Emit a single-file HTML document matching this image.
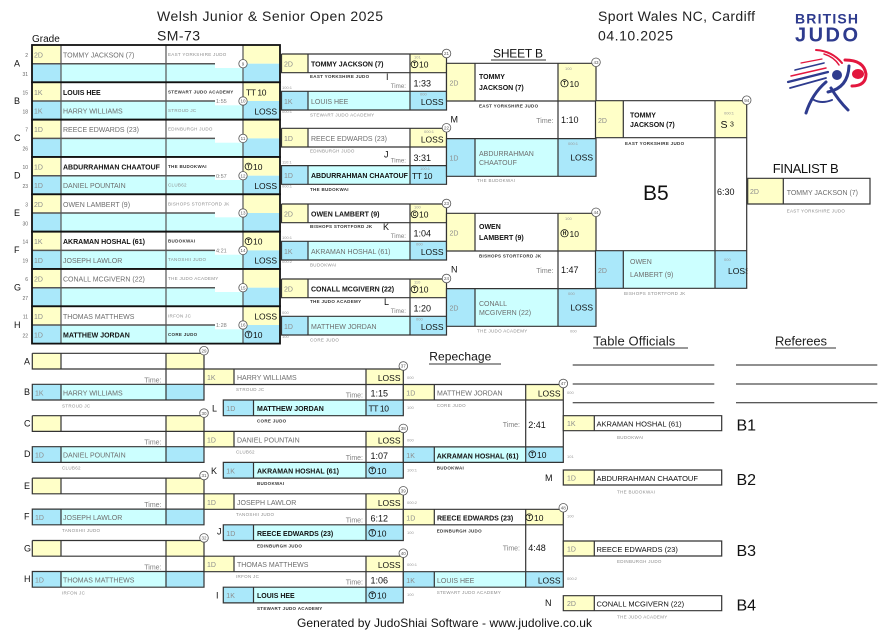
<!DOCTYPE html>
<html><head><meta charset="utf-8"><style>
html,body{margin:0;padding:0;background:#fff;}
svg{display:block;}
text{font-family:"Liberation Sans",Arial,sans-serif;}
.g{font-size:7px;fill:#8c8c8c}
.n{font-size:7px;fill:#6e6e6e}
.w{font-size:7px;font-weight:bold;fill:#111}
.c{font-size:4.5px;fill:#8c8c8c;letter-spacing:.3px}
.cb{font-size:4.5px;font-weight:bold;fill:#333;letter-spacing:.3px}
.s{font-size:8.5px;fill:#111}
.tl{font-size:7px;fill:#808080}
.tl2{font-size:6.2px;fill:#808080}
.tv{font-size:9px;fill:#111}
.tm{font-size:5.5px;fill:#808080}
.sm{font-size:4px;fill:#999}
.sd{font-size:5px;fill:#666}
.lt{font-size:9px;fill:#111}
.cn{font-size:4.5px;fill:#555;text-anchor:middle}
.cc{fill:#fff;stroke:#555;stroke-width:.8}
.ci{fill:none;stroke:#111;stroke-width:.8}
.ct{font-size:5px;font-weight:bold;fill:#111;text-anchor:middle}
.bl{fill:none;stroke:#333;stroke-width:1.2}
.il{fill:none;stroke:#555;stroke-width:1.2}
.bo{fill:none;stroke:#111;stroke-width:1.8}
.dl{fill:none;stroke:#555;stroke-width:1.5}
.bn{font-size:7.5px;fill:#111}
.bl16{font-size:16px;fill:#111}
.hd{font-size:14px;fill:#222}
</style></head><body>
<svg width="891" height="630" viewBox="0 0 891 630" xmlns="http://www.w3.org/2000/svg">
<defs>
<g id="r1b">
<rect x="32" y="0" width="29" height="18.7" fill="#ffffc8"/>
<rect x="61" y="0" width="182" height="18.7" fill="#fff"/>
<rect x="243" y="0" width="37" height="18.7" fill="#ffffc8"/>
<rect x="32" y="18.7" width="29" height="18.6" fill="#aae8fa"/>
<rect x="61" y="18.7" width="182" height="18.6" fill="#ccffff"/>
<rect x="243" y="18.7" width="37" height="18.6" fill="#aae8fa"/>
<rect x="215" y="18" width="27.4" height="5" fill="#fff"/>
<path class="il" d="M61 0V37.3M166 0V37.3M243 0V37.3"/>
<path class="dl" d="M32 18.7H215"/>
<rect class="bo" x="32" y="0" width="248" height="37.3"/>
</g>
<g id="r2b">
<rect x="281.5" y="0" width="26.5" height="18.7" fill="#ffffc8"/>
<rect x="308" y="0" width="102" height="18.7" fill="#fff"/>
<rect x="410" y="0" width="36.5" height="18.7" fill="#ffffc8"/>
<rect x="410" y="18.7" width="36.5" height="18.6" fill="#fff"/>
<rect x="281.5" y="37.3" width="26.5" height="18.7" fill="#aae8fa"/>
<rect x="308" y="37.3" width="102" height="18.7" fill="#ccffff"/>
<rect x="410" y="37.3" width="36.5" height="18.7" fill="#aae8fa"/>
<path class="bl" d="M281.5 0H446.5V56H281.5V37.3H446.5M281.5 0V18.7H446.5M308 0V18.7M308 37.3V56M410 0V56"/>
</g>
<g id="r3b">
<rect x="446.5" y="0" width="28.5" height="37.7" fill="#ffffc8"/>
<rect x="475" y="0" width="83" height="37.7" fill="#fff"/>
<rect x="558" y="0" width="38" height="37.7" fill="#ffffc8"/>
<rect x="558" y="37.7" width="38" height="37.6" fill="#fff"/>
<rect x="446.5" y="75.3" width="28.5" height="37.7" fill="#aae8fa"/>
<rect x="475" y="75.3" width="83" height="37.7" fill="#ccffff"/>
<rect x="558" y="75.3" width="38" height="37.7" fill="#aae8fa"/>
<path class="bl" d="M446.5 0H596V113H446.5V75.3H596M446.5 0V37.7H596M475 0V37.7M475 75.3V113M558 0V113"/>
</g>
<g id="lrb">
<rect x="32.3" y="0" width="28.7" height="15.7" fill="#ffffc8"/>
<rect x="61" y="0" width="105" height="15.7" fill="#fff"/>
<rect x="166" y="0" width="38" height="15.7" fill="#ffffc8"/>
<rect x="32.3" y="31" width="28.7" height="15.7" fill="#aae8fa"/>
<rect x="61" y="31" width="105" height="15.7" fill="#ccffff"/>
<rect x="166" y="31" width="38" height="15.7" fill="#aae8fa"/>
<path class="bl" d="M32.3 0H204V46.7H32.3V31H204M32.3 0V15.7H204M61 0V15.7M61 31V46.7M166 0V46.7"/>
</g>
<g id="p1b">
<rect x="204" y="0" width="30" height="15.5" fill="#ffffc8"/>
<rect x="234" y="0" width="132" height="15.5" fill="#fff"/>
<rect x="366" y="0" width="37.3" height="15.5" fill="#ffffc8"/>
<rect x="223.3" y="31" width="30.2" height="15.7" fill="#aae8fa"/>
<rect x="253.5" y="31" width="112.5" height="15.7" fill="#ccffff"/>
<rect x="366" y="31" width="37.3" height="15.7" fill="#aae8fa"/>
<path class="bl" d="M204 0H403.3V46.7H223.3V31H403.3M204 0V15.5H403.3M234 0V15.5M253.5 31V46.7M366 0V46.7"/>
</g>
<g id="p2b">
<rect x="403.3" y="0" width="31" height="15.5" fill="#ffffc8"/>
<rect x="434.3" y="0" width="91.4" height="15.5" fill="#fff"/>
<rect x="525.7" y="0" width="37.6" height="15.5" fill="#ffffc8"/>
<rect x="403.3" y="62.4" width="31" height="15.5" fill="#aae8fa"/>
<rect x="434.3" y="62.4" width="91.4" height="15.5" fill="#ccffff"/>
<rect x="525.7" y="62.4" width="37.6" height="15.5" fill="#aae8fa"/>
<path class="bl" d="M403.3 0H563.3V77.9H403.3V62.4H563.3M403.3 0V15.5H563.3M434.3 0V15.5M434.3 62.4V77.9M525.7 0V77.9"/>
</g>
<g id="bb">
<rect x="563.3" y="0" width="31" height="15" fill="#ffffc8"/>
<rect x="594.3" y="0" width="127.4" height="15" fill="#fff"/>
<path class="bl" d="M563.3 0H721.7V15H563.3ZM594.3 0V15"/>
</g>
</defs>

<rect width="891" height="630" fill="#fff"/>

<!-- Header -->
<text class="hd" x="157" y="21" textLength="226">Welsh Junior &amp; Senior Open 2025</text>
<text class="hd" x="157" y="40.5" textLength="43">SM-73</text>
<text class="hd" x="598" y="21" textLength="157">Sport Wales NC, Cardiff</text>
<text class="hd" x="598" y="40.5" textLength="75">04.10.2025</text>
<text x="32" y="42" font-size="10" fill="#111">Grade</text>

<!-- Logo -->
<text x="795" y="23.5" font-size="14" font-weight="bold" fill="#2e3b8e" textLength="63">BRITISH</text>
<text x="795" y="41.7" font-size="20" font-weight="bold" fill="#2e3b8e" textLength="63">JUDO</text>
<g fill="none" stroke-linecap="round">
<path d="M816 50 Q832 51 842 63" stroke="#e3173e" stroke-width="2"/>
<path d="M824 54 Q834 57 839 65" stroke="#e3173e" stroke-width="1.5"/>
<path d="M845 60 Q864 60 866 74 Q866 86 852 86" stroke="#e3173e" stroke-width="3"/>
<path d="M788 82 L828 72" stroke="#2e3b8e" stroke-width="2.2"/>
<path d="M791 76 L826 68" stroke="#e3173e" stroke-width="1.5"/>
<path d="M795 70 L824 63" stroke="#2e3b8e" stroke-width="1.6"/>
<path d="M801 63 L822 59" stroke="#e3173e" stroke-width="1.2"/>
<path d="M790 88 L826 78" stroke="#2e3b8e" stroke-width="1.8"/>
<path d="M849 66 Q848 88 828 92" stroke="#2e3b8e" stroke-width="3"/>
<path d="M826 82 Q812 94 806 113" stroke="#2e3b8e" stroke-width="3"/>
<path d="M831 88 Q838 100 848 110" stroke="#2e3b8e" stroke-width="3"/>
<path d="M814 100 Q822 104 832 100" stroke="#2e3b8e" stroke-width="2"/>
</g>
<ellipse cx="858" cy="74" rx="6" ry="5" fill="#e3173e"/>
<circle cx="837" cy="75" r="5" fill="#2e3b8e"/>

<!-- ROUND 1 -->
<use href="#r1b" y="45"/><use href="#r1b" y="82.3"/><use href="#r1b" y="119.7"/><use href="#r1b" y="157"/>
<use href="#r1b" y="194.3"/><use href="#r1b" y="231.7"/><use href="#r1b" y="269"/><use href="#r1b" y="306.3"/>

<g transform="translate(0,45)">
<text class="sd" x="28" y="12" text-anchor="end">2</text><text class="sd" x="28" y="31" text-anchor="end">31</text>
<text class="lt" x="14" y="21.5">A</text>
<text class="g" x="34" y="12.5">2D</text>
<text class="n" x="63" y="12.5">TOMMY JACKSON (7)</text>
<text class="c" x="168" y="11">EAST YORKSHIRE JUDO</text>
<circle class="cc" cx="243" cy="18.7" r="4.2"/><text class="cn" x="243" y="20.3">9</text>
</g>
<g transform="translate(0,82.3)">
<text class="sd" x="28" y="12" text-anchor="end">15</text><text class="sd" x="28" y="31" text-anchor="end">18</text>
<text class="lt" x="14" y="21.5">B</text>
<text class="g" x="34" y="12.5">1K</text>
<text class="w" x="63" y="12.5">LOUIS HEE</text>
<text class="cb" x="168" y="11">STEWART JUDO ACADEMY</text>
<text class="s" x="246" y="13" letter-spacing="-0.4">TT 10</text>
<text class="g" x="34" y="31.2">1K</text>
<text class="n" x="63" y="31.2">HARRY WILLIAMS</text>
<text class="c" x="168" y="29.5">STROUD JC</text>
<text class="s" x="277" y="32" text-anchor="end">LOSS</text>
<text class="tm" x="216" y="20.8">1:55</text>
<circle class="cc" cx="243" cy="18.7" r="4.2"/><text class="cn" x="243" y="20.3">10</text>
</g>
<g transform="translate(0,119.7)">
<text class="sd" x="28" y="12" text-anchor="end">7</text><text class="sd" x="28" y="31" text-anchor="end">26</text>
<text class="lt" x="14" y="21.5">C</text>
<text class="g" x="34" y="12.5">1D</text>
<text class="n" x="63" y="12.5">REECE EDWARDS (23)</text>
<text class="c" x="168" y="11">EDINBURGH JUDO</text>
<circle class="cc" cx="243" cy="18.7" r="4.2"/><text class="cn" x="243" y="20.3">11</text>
</g>
<g transform="translate(0,157)">
<text class="sd" x="28" y="12" text-anchor="end">10</text><text class="sd" x="28" y="31" text-anchor="end">23</text>
<text class="lt" x="14" y="21.5">D</text>
<text class="g" x="34" y="12.5">1D</text>
<text class="w" x="63" y="12.5">ABDURRAHMAN CHAATOUF</text>
<text class="cb" x="168" y="11">THE BUDOKWAI</text>
<circle class="ci" cx="248.5" cy="9.5" r="3.4"/><text class="ct" x="248.5" y="11.3">T</text><text class="s" x="253" y="13">10</text>
<text class="g" x="34" y="31.2">1D</text>
<text class="n" x="63" y="31.2">DANIEL POUNTAIN</text>
<text class="c" x="168" y="29.5">CLUB62</text>
<text class="s" x="277" y="32" text-anchor="end">LOSS</text>
<text class="tm" x="216" y="20.8">0:57</text>
<circle class="cc" cx="243" cy="18.7" r="4.2"/><text class="cn" x="243" y="20.3">12</text>
</g>
<g transform="translate(0,194.3)">
<text class="sd" x="28" y="12" text-anchor="end">3</text><text class="sd" x="28" y="31" text-anchor="end">30</text>
<text class="lt" x="14" y="21.5">E</text>
<text class="g" x="34" y="12.5">2D</text>
<text class="n" x="63" y="12.5">OWEN LAMBERT (9)</text>
<text class="c" x="168" y="11">BISHOPS STORTFORD JK</text>
<circle class="cc" cx="243" cy="18.7" r="4.2"/><text class="cn" x="243" y="20.3">13</text>
</g>
<g transform="translate(0,231.7)">
<text class="sd" x="28" y="12" text-anchor="end">14</text><text class="sd" x="28" y="31" text-anchor="end">19</text>
<text class="lt" x="14" y="21.5">F</text>
<text class="g" x="34" y="12.5">1K</text>
<text class="w" x="63" y="12.5">AKRAMAN HOSHAL (61)</text>
<text class="cb" x="168" y="11">BUDOKWAI</text>
<circle class="ci" cx="248.5" cy="9.5" r="3.4"/><text class="ct" x="248.5" y="11.3">T</text><text class="s" x="253" y="13">10</text>
<text class="g" x="34" y="31.2">1D</text>
<text class="n" x="63" y="31.2">JOSEPH LAWLOR</text>
<text class="c" x="168" y="29.5">TANOSHII JUDO</text>
<text class="s" x="277" y="32" text-anchor="end">LOSS</text>
<text class="tm" x="216" y="20.8">4:21</text>
<circle class="cc" cx="243" cy="18.7" r="4.2"/><text class="cn" x="243" y="20.3">14</text>
</g>
<g transform="translate(0,269)">
<text class="sd" x="28" y="12" text-anchor="end">6</text><text class="sd" x="28" y="31" text-anchor="end">27</text>
<text class="lt" x="14" y="21.5">G</text>
<text class="g" x="34" y="12.5">2D</text>
<text class="n" x="63" y="12.5">CONALL MCGIVERN (22)</text>
<text class="c" x="168" y="11">THE JUDO ACADEMY</text>
<circle class="cc" cx="243" cy="18.7" r="4.2"/><text class="cn" x="243" y="20.3">15</text>
</g>
<g transform="translate(0,306.3)">
<text class="sd" x="28" y="12" text-anchor="end">11</text><text class="sd" x="28" y="31" text-anchor="end">22</text>
<text class="lt" x="14" y="21.5">H</text>
<text class="g" x="34" y="12.5">1D</text>
<text class="n" x="63" y="12.5">THOMAS MATTHEWS</text>
<text class="c" x="168" y="11">IRFON JC</text>
<text class="s" x="277" y="13" text-anchor="end">LOSS</text>
<text class="g" x="34" y="31.2">1D</text>
<text class="w" x="63" y="31.2">MATTHEW JORDAN</text>
<text class="cb" x="168" y="29.5">CORE JUDO</text>
<circle class="ci" cx="248.5" cy="28.2" r="3.4"/><text class="ct" x="248.5" y="30">T</text><text class="s" x="253" y="31.8">10</text>
<text class="tm" x="216" y="20.8">1:28</text>
<circle class="cc" cx="243" cy="18.7" r="4.2"/><text class="cn" x="243" y="20.3">16</text>
</g>

<!-- ROUND 2 -->
<use href="#r2b" y="54"/><use href="#r2b" y="128.3"/><use href="#r2b" y="204"/><use href="#r2b" y="279"/>
<g transform="translate(0,54)">
<text class="g" x="284" y="12.5">2D</text>
<text class="w" x="311" y="12.5">TOMMY JACKSON (7)</text>
<text class="sm" x="414" y="4.6">101</text>
<circle class="ci" cx="414.5" cy="10.3" r="3.4"/><text class="ct" x="414.5" y="12.1">T</text><text class="s" x="419" y="13.5">10</text>
<text class="cb" x="310" y="24">EAST YORKSHIRE JUDO</text>
<text class="tl2" x="406" y="34" text-anchor="end">Time:</text>
<text class="tv" x="413.5" y="32.5">1:33</text>
<text class="sm" x="282" y="35">100:1</text>
<text class="g" x="284" y="49.8">1K</text>
<text class="n" x="311" y="49.8">LOUIS HEE</text>
<text class="sm" x="420" y="41.5">000</text>
<text class="s" x="443.5" y="51" text-anchor="end">LOSS</text>
<text class="c" x="310" y="62.5">STEWART JUDO ACADEMY</text>
<text class="sm" x="282" y="59">000:1</text>
<text class="lt" x="386" y="26">I</text>
<circle class="cc" cx="446.5" cy="-0.5" r="4.3"/><text class="cn" x="446.5" y="1.2">21</text>
</g>
<g transform="translate(0,128.3)">
<text class="g" x="284" y="12.5">1D</text>
<text class="n" x="311" y="12.5">REECE EDWARDS (23)</text>
<text class="sm" x="424" y="4.6">000:1</text>
<text class="s" x="443.5" y="14" text-anchor="end">LOSS</text>
<text class="c" x="310" y="24">EDINBURGH JUDO</text>
<text class="tl2" x="406" y="34" text-anchor="end">Time:</text>
<text class="tv" x="413.5" y="32.5">3:31</text>
<text class="sm" x="282" y="35">110:1</text>
<text class="g" x="284" y="49.8">1D</text>
<text class="w" x="311" y="49.8">ABDURRAHMAN CHAATOUF</text>
<text class="sm" x="420" y="41.5">100:1</text>
<text class="s" x="412" y="50.5" letter-spacing="-0.4">TT 10</text>
<text class="cb" x="310" y="62.5">THE BUDOKWAI</text>
<text class="sm" x="282" y="59">000:1</text>
<text class="lt" x="384" y="29">J</text>
<circle class="cc" cx="446.5" cy="-0.5" r="4.3"/><text class="cn" x="446.5" y="1.2">22</text>
</g>
<g transform="translate(0,204)">
<text class="g" x="284" y="12.5">2D</text>
<text class="w" x="311" y="12.5">OWEN LAMBERT (9)</text>
<text class="sm" x="414" y="4.6">100</text>
<circle class="ci" cx="414.5" cy="10.3" r="3.4"/><text class="ct" x="414.5" y="12.1">C</text><text class="s" x="419" y="13.5">10</text>
<text class="cb" x="310" y="24">BISHOPS STORTFORD JK</text>
<text class="tl2" x="406" y="34" text-anchor="end">Time:</text>
<text class="tv" x="413.5" y="32.5">1:04</text>
<text class="sm" x="282" y="35">100:1</text>
<text class="g" x="284" y="49.8">1K</text>
<text class="n" x="311" y="49.8">AKRAMAN HOSHAL (61)</text>
<text class="sm" x="416" y="41.5">000</text>
<text class="s" x="443.5" y="51" text-anchor="end">LOSS</text>
<text class="c" x="310" y="62.5">BUDOKWAI</text>
<text class="sm" x="282" y="59">000:2</text>
<text class="lt" x="383" y="26">K</text>
<circle class="cc" cx="446.5" cy="-0.5" r="4.3"/><text class="cn" x="446.5" y="1.2">23</text>
</g>
<g transform="translate(0,279)">
<text class="g" x="284" y="12.5">2D</text>
<text class="w" x="311" y="12.5">CONALL MCGIVERN (22)</text>
<text class="sm" x="414" y="4.6">110</text>
<circle class="ci" cx="414.5" cy="10.3" r="3.4"/><text class="ct" x="414.5" y="12.1">T</text><text class="s" x="419" y="13.5">10</text>
<text class="cb" x="310" y="24">THE JUDO ACADEMY</text>
<text class="tl2" x="406" y="34" text-anchor="end">Time:</text>
<text class="tv" x="413.5" y="32.5">1:20</text>
<text class="sm" x="282" y="35">000</text>
<text class="g" x="284" y="49.8">1D</text>
<text class="n" x="311" y="49.8">MATTHEW JORDAN</text>
<text class="sm" x="416" y="41.5">000</text>
<text class="s" x="443.5" y="51" text-anchor="end">LOSS</text>
<text class="c" x="310" y="62.5">CORE JUDO</text>
<text class="sm" x="282" y="59">100</text>
<text class="lt" x="384" y="26">L</text>
<circle class="cc" cx="446.5" cy="-0.5" r="4.3"/><text class="cn" x="446.5" y="1.2">24</text>
</g>

<!-- SHEET B -->
<text x="493" y="57.5" font-size="12" fill="#111" textLength="50">SHEET B</text>
<path d="M491 60H546" stroke="#333" stroke-width="1"/>

<!-- ROUND 3 -->
<use href="#r3b" y="63.3"/><use href="#r3b" y="213.3"/>
<g transform="translate(0,63.3)">
<text class="g" x="449.5" y="22">2D</text>
<text class="w" x="479" y="15.5">TOMMY</text>
<text class="w" x="479" y="26.5">JACKSON (7)</text>
<text class="sm" x="565" y="6.5">100</text>
<circle class="ci" cx="564.5" cy="20" r="3.6"/><text class="ct" x="564.5" y="21.9">T</text><text class="s" x="569.5" y="23.5">10</text>
<text class="cb" x="479" y="44">EAST YORKSHIRE JUDO</text>
<text class="tl" x="553.5" y="59.5" text-anchor="end">Time:</text>
<text class="tv" x="561" y="59.5">1:10</text>
<text class="lt" x="450.5" y="59">M</text>
<text class="g" x="449.5" y="97">1D</text>
<text class="n" x="479" y="92.5">ABDURRAHMAN</text>
<text class="n" x="479" y="101.8">CHAATOUF</text>
<text class="sm" x="568" y="81.5">000:1</text>
<text class="s" x="593" y="97" text-anchor="end">LOSS</text>
<text class="c" x="477" y="118.5">THE BUDOKWAI</text>
<circle class="cc" cx="596" cy="-1" r="4.3"/><text class="cn" x="596" y="0.7">43</text>
</g>
<g transform="translate(0,213.3)">
<text class="g" x="449.5" y="22">2D</text>
<text class="w" x="479" y="15.5">OWEN</text>
<text class="w" x="479" y="26.5">LAMBERT (9)</text>
<text class="sm" x="565" y="6.5">100</text>
<circle class="ci" cx="564.5" cy="20" r="3.6"/><text class="ct" x="564.5" y="21.9">H</text><text class="s" x="569.5" y="23.5">10</text>
<text class="cb" x="479" y="44">BISHOPS STORTFORD JK</text>
<text class="tl" x="553.5" y="59.5" text-anchor="end">Time:</text>
<text class="tv" x="561" y="59.5">1:47</text>
<text class="lt" x="451" y="59">N</text>
<text class="g" x="449.5" y="97">2D</text>
<text class="n" x="479" y="92.5">CONALL</text>
<text class="n" x="479" y="101.8">MCGIVERN (22)</text>
<text class="sm" x="568" y="81.5">000</text>
<text class="s" x="593" y="97" text-anchor="end">LOSS</text>
<text class="c" x="477" y="119">THE JUDO ACADEMY</text>
<text class="sm" x="570" y="119">000</text>
<circle class="cc" cx="596" cy="-1" r="4.3"/><text class="cn" x="596" y="0.7">44</text>
</g>

<!-- FINAL -->
<rect x="595.5" y="100.7" width="27.8" height="37" fill="#ffffc8"/>
<rect x="623.3" y="100.7" width="91.7" height="37" fill="#fff"/>
<rect x="715" y="100.7" width="31.7" height="37" fill="#ffffc8"/>
<rect x="595.5" y="250.7" width="27.8" height="37.6" fill="#aae8fa"/>
<rect x="623.3" y="250.7" width="91.7" height="37.6" fill="#ccffff"/>
<rect x="715" y="250.7" width="31.7" height="37.6" fill="#aae8fa"/>
<text class="g" x="598" y="123">2D</text>
<text class="w" x="630" y="117.5">TOMMY</text>
<text class="w" x="630" y="127">JACKSON (7)</text>
<text class="sm" x="724" y="114.5">000:1</text>
<text x="720.5" y="128" font-size="10.5" fill="#111">S</text>
<text x="730" y="126.5" font-size="7" fill="#111">3</text>
<text class="cb" x="625" y="145" letter-spacing=".6">EAST YORKSHIRE JUDO</text>
<text x="643" y="200" font-size="21" fill="#111">B5</text>
<text class="tv" x="717" y="195">6:30</text>
<text class="g" x="598" y="273">2D</text>
<text class="n" x="630" y="264">OWEN</text>
<text class="n" x="630" y="277">LAMBERT (9)</text>
<text class="sm" x="724" y="261">000</text>
<text class="s" x="728" y="274">LOSS</text>
<rect x="747.5" y="249" width="20" height="42" fill="#fff"/>
<path class="bl" d="M595.5 100.7H746.7V288.3H595.5V250.7H746.7M595.5 100.7V137.7H746.7M623.3 100.7V137.7M623.3 250.7V288.3M715 100.7V288.3"/>
<text class="c" x="624" y="295">BISHOPS STORTFORD JK</text>
<circle class="cc" cx="746.7" cy="100.2" r="4.3"/><text class="cn" x="746.7" y="101.9">94</text>

<!-- FINALIST -->
<text x="772.7" y="173" font-size="13" fill="#111" textLength="66">FINALIST B</text>
<rect x="747.7" y="178.3" width="35.6" height="25.7" fill="#ffffc8"/>
<rect x="783.3" y="178.3" width="86.7" height="25.7" fill="#fff"/>
<path class="bl" d="M747.7 178.3H870V204H747.7ZM783.3 178.3V204"/>
<text class="g" x="750" y="194">2D</text>
<text class="n" x="786.7" y="195">TOMMY JACKSON (7)</text>
<text class="c" x="786.7" y="212.5">EAST YORKSHIRE JUDO</text>

<!-- Table officials / Referees -->
<text x="593.3" y="345.5" font-size="13" fill="#222" textLength="82">Table Officials</text>
<path d="M593 348H688" stroke="#333" stroke-width="1"/>
<text x="775" y="345.5" font-size="13" fill="#222" textLength="52">Referees</text>
<path d="M775 348H836" stroke="#333" stroke-width="1"/>
<path d="M572.7 365H714.3M572.7 384H714.3M572.7 402.7H714.3M736 365H877.3M736 384H877.3M736 402.7H877.3" stroke="#222" stroke-width="1"/>

<!-- Repechage -->
<text x="429.3" y="360.5" font-size="12" fill="#111" textLength="62">Repechage</text>
<path d="M429 364H501" stroke="#333" stroke-width="1"/>

<!-- Left repechage column -->
<use href="#lrb" y="353.3"/><use href="#lrb" y="415.7"/><use href="#lrb" y="478.1"/><use href="#lrb" y="540.5"/>
<g transform="translate(0,353.3)">
<text class="lt" x="24" y="11">A</text><text class="lt" x="24" y="41.5">B</text>
<text class="tl" x="161.5" y="29" text-anchor="end">Time:</text>
<text class="g" x="35" y="42">1K</text><text class="n" x="63" y="42">HARRY WILLIAMS</text>
<text class="c" x="62" y="54">STROUD JC</text>
<circle class="cc" cx="204" cy="-2.6" r="4.3"/><text class="cn" x="204" y="-0.9">29</text>
</g>
<g transform="translate(0,415.7)">
<text class="lt" x="24" y="11">C</text><text class="lt" x="24" y="41.5">D</text>
<text class="tl" x="161.5" y="29" text-anchor="end">Time:</text>
<text class="g" x="35" y="42">1D</text><text class="n" x="63" y="42">DANIEL POUNTAIN</text>
<text class="c" x="62" y="54">CLUB62</text>
<circle class="cc" cx="204" cy="-2.6" r="4.3"/><text class="cn" x="204" y="-0.9">30</text>
</g>
<g transform="translate(0,478.1)">
<text class="lt" x="24" y="11">E</text><text class="lt" x="24" y="41.5">F</text>
<text class="tl" x="161.5" y="29" text-anchor="end">Time:</text>
<text class="g" x="35" y="42">1D</text><text class="n" x="63" y="42">JOSEPH LAWLOR</text>
<text class="c" x="62" y="54">TANOSHII JUDO</text>
<circle class="cc" cx="204" cy="-2.6" r="4.3"/><text class="cn" x="204" y="-0.9">31</text>
</g>
<g transform="translate(0,540.5)">
<text class="lt" x="24" y="11">G</text><text class="lt" x="24" y="41.5">H</text>
<text class="tl" x="161.5" y="29" text-anchor="end">Time:</text>
<text class="g" x="35" y="42">1D</text><text class="n" x="63" y="42">THOMAS MATTHEWS</text>
<text class="c" x="62" y="54">IRFON JC</text>
<circle class="cc" cx="204" cy="-2.6" r="4.3"/><text class="cn" x="204" y="-0.9">32</text>
</g>

<!-- Repechage round 1 -->
<use href="#p1b" y="369"/><use href="#p1b" y="431.4"/><use href="#p1b" y="493.8"/><use href="#p1b" y="556.2"/>
<g transform="translate(0,369)">
<text class="g" x="207" y="11">1K</text><text class="n" x="237" y="11">HARRY WILLIAMS</text>
<text class="s" x="400.5" y="12" text-anchor="end">LOSS</text><text class="sm" x="407" y="10">000</text>
<text class="c" x="236" y="22">STROUD JC</text>
<text class="tl" x="363" y="28.5" text-anchor="end">Time:</text><text class="tv" x="370.5" y="27.5">1:15</text>
<text class="g" x="226.3" y="42">1D</text><text class="w" x="257" y="42">MATTHEW JORDAN</text>
<text class="s" x="368.5" y="42.5" letter-spacing="-0.4">TT 10</text>
<text class="sm" x="407" y="40">100</text>
<text class="cb" x="257" y="53.7">CORE JUDO</text>
<text class="lt" x="212" y="42.5">L</text>
<circle class="cc" cx="403.3" cy="-3" r="4.3"/><text class="cn" x="403.3" y="-1.3">37</text>
</g>
<g transform="translate(0,431.4)">
<text class="g" x="207" y="11">1D</text><text class="n" x="237" y="11">DANIEL POUNTAIN</text>
<text class="s" x="400.5" y="12" text-anchor="end">LOSS</text><text class="sm" x="407" y="10">000</text>
<text class="c" x="236" y="22">CLUB62</text>
<text class="tl" x="363" y="28.5" text-anchor="end">Time:</text><text class="tv" x="370.5" y="27.5">1:07</text>
<text class="g" x="226.3" y="42">1K</text><text class="w" x="257" y="42">AKRAMAN HOSHAL (61)</text>
<circle class="ci" cx="372.3" cy="39" r="3.4"/><text class="ct" x="372.3" y="40.8">T</text><text class="s" x="377" y="42.5">10</text>
<text class="sm" x="407" y="40">100:1</text>
<text class="cb" x="257" y="53.7">BUDOKWAI</text>
<text class="lt" x="211" y="42.5">K</text>
<circle class="cc" cx="403.3" cy="-3" r="4.3"/><text class="cn" x="403.3" y="-1.3">38</text>
</g>
<g transform="translate(0,493.8)">
<text class="g" x="207" y="11">1D</text><text class="n" x="237" y="11">JOSEPH LAWLOR</text>
<text class="s" x="400.5" y="12" text-anchor="end">LOSS</text><text class="sm" x="407" y="10">000:2</text>
<text class="c" x="236" y="22">TANOSHII JUDO</text>
<text class="tl" x="363" y="28.5" text-anchor="end">Time:</text><text class="tv" x="370.5" y="27.5">6:12</text>
<text class="g" x="226.3" y="42">1D</text><text class="w" x="257" y="42">REECE EDWARDS (23)</text>
<circle class="ci" cx="372.3" cy="39" r="3.4"/><text class="ct" x="372.3" y="40.8">T</text><text class="s" x="377" y="42.5">10</text>
<text class="sm" x="407" y="40">100</text>
<text class="cb" x="257" y="53.7">EDINBURGH JUDO</text>
<text class="lt" x="217" y="40.5">J</text>
<circle class="cc" cx="403.3" cy="-3" r="4.3"/><text class="cn" x="403.3" y="-1.3">39</text>
</g>
<g transform="translate(0,556.2)">
<text class="g" x="207" y="11">1D</text><text class="n" x="237" y="11">THOMAS MATTHEWS</text>
<text class="s" x="400.5" y="12" text-anchor="end">LOSS</text><text class="sm" x="407" y="10">000:1</text>
<text class="c" x="236" y="22">IRFON JC</text>
<text class="tl" x="363" y="28.5" text-anchor="end">Time:</text><text class="tv" x="370.5" y="27.5">1:06</text>
<text class="g" x="226.3" y="42">1K</text><text class="w" x="257" y="42">LOUIS HEE</text>
<circle class="ci" cx="372.3" cy="39" r="3.4"/><text class="ct" x="372.3" y="40.8">T</text><text class="s" x="377" y="42.5">10</text>
<text class="sm" x="407" y="40">100</text>
<text class="cb" x="257" y="53.7">STEWART JUDO ACADEMY</text>
<text class="lt" x="216" y="42.5">I</text>
<circle class="cc" cx="403.3" cy="-3" r="4.3"/><text class="cn" x="403.3" y="-1.3">40</text>
</g>

<!-- Repechage round 2 -->
<use href="#p2b" y="384.5"/><use href="#p2b" y="509.3"/>
<g transform="translate(0,384.5)">
<text class="g" x="406.3" y="11">1D</text><text class="n" x="437" y="11">MATTHEW JORDAN</text>
<text class="s" x="560.5" y="12" text-anchor="end">LOSS</text><text class="sm" x="567" y="9.5">000</text>
<text class="c" x="436.7" y="22.5">CORE JUDO</text>
<text class="tl" x="520" y="42.5" text-anchor="end">Time:</text><text class="tv" x="528.3" y="43.5">2:41</text>
<text class="g" x="406.3" y="73.5">1K</text><text class="w" x="436.7" y="73.8">AKRAMAN HOSHAL (61)</text>
<circle class="ci" cx="532.3" cy="69.8" r="3.4"/><text class="ct" x="532.3" y="71.6">T</text><text class="s" x="537" y="73.3">10</text>
<text class="sm" x="567" y="73.5">101</text>
<text class="cb" x="436.7" y="85">BUDOKWAI</text>
<circle class="cc" cx="563.3" cy="-1" r="4.3"/><text class="cn" x="563.3" y="0.7">47</text>
</g>
<g transform="translate(0,509.3)">
<text class="g" x="406.3" y="11">1D</text><text class="w" x="437" y="11">REECE EDWARDS (23)</text>
<circle class="ci" cx="529.3" cy="8" r="3.4"/><text class="ct" x="529.3" y="9.8">T</text><text class="s" x="534" y="11.5">10</text>
<text class="sm" x="567" y="8">100</text>
<text class="cb" x="436.7" y="23.2">EDINBURGH JUDO</text>
<text class="tl" x="520" y="41.2" text-anchor="end">Time:</text><text class="tv" x="528.3" y="41.7">4:48</text>
<text class="g" x="406.3" y="73.5">1K</text><text class="n" x="437" y="73.5">LOUIS HEE</text>
<text class="s" x="560.5" y="74" text-anchor="end">LOSS</text><text class="sm" x="567" y="70.7">000:2</text>
<text class="c" x="436.7" y="84.7">STEWART JUDO ACADEMY</text>
<circle class="cc" cx="563.3" cy="-1.5" r="4.3"/><text class="cn" x="563.3" y="0.2">48</text>
</g>

<!-- Medal boxes -->
<use href="#bb" y="415.7"/><use href="#bb" y="470"/><use href="#bb" y="541"/><use href="#bb" y="595.7"/>
<g transform="translate(0,415.7)">
<text class="g" x="567" y="10.5">1K</text><text class="bn" x="596.5" y="10.8">AKRAMAN HOSHAL (61)</text>
<text class="c" x="617" y="23.3">BUDOKWAI</text>
<text class="bl16" x="736.5" y="14.8">B1</text>
</g>
<g transform="translate(0,470)">
<text class="g" x="567" y="10.5">1D</text><text class="bn" x="596.5" y="10.8">ABDURRAHMAN CHAATOUF</text>
<text class="c" x="617" y="23.3">THE BUDOKWAI</text>
<text class="bl16" x="736.5" y="14.8">B2</text>
</g>
<g transform="translate(0,541)">
<text class="g" x="567" y="10.5">1D</text><text class="bn" x="596.5" y="10.8">REECE EDWARDS (23)</text>
<text class="c" x="617" y="22">EDINBURGH JUDO</text>
<text class="bl16" x="736.5" y="14.8">B3</text>
</g>
<g transform="translate(0,595.7)">
<text class="g" x="567" y="10.5">2D</text><text class="bn" x="596.5" y="10.8">CONALL MCGIVERN (22)</text>
<text class="c" x="617" y="23">THE JUDO ACADEMY</text>
<text class="bl16" x="736.5" y="14.8">B4</text>
</g>
<text class="lt" x="545" y="481">M</text>
<text class="lt" x="545" y="606">N</text>

<!-- Footer -->
<text x="297" y="627" font-size="12" fill="#111" textLength="295">Generated by JudoShiai Software - www.judolive.co.uk</text>
</svg>
</body></html>
